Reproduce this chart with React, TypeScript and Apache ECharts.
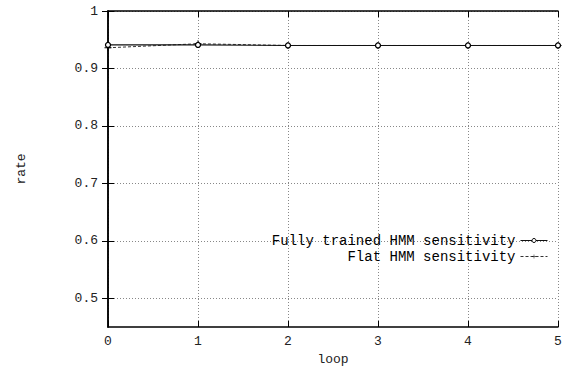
import React, { useEffect, useRef } from "react";
import * as echarts from "echarts";

const loops = [0, 1, 2, 3, 4, 5];
const fullyTrained = [0.941, 0.941, 0.94, 0.94, 0.94, 0.94];
const flat = [0.936, 0.943, 0.94, 0.94, 0.94, 0.94];
const yTicks = [0.5, 0.6, 0.7, 0.8, 0.9, 1];
const xTicks = [0, 1, 2, 3, 4, 5];
const seriesNames = ["Fully trained HMM sensitivity", "Flat HMM sensitivity"];

const PLUS = "path://M4.4,0h1.2v4.4h4.4v1.2h-4.4v4.4h-1.2v-4.4h-4.4v-1.2h4.4z";

export default function App() {
  const ref = useRef<HTMLDivElement>(null);
  useEffect(() => {
    if (!ref.current) return;
    const chart = echarts.init(ref.current, undefined, { renderer: "svg" });
    const mono = { fontFamily: "Liberation Mono", fontSize: 13, color: "#222" };
    const grid = { left: 108, right: 10, top: 11, bottom: 40, outerBoundsMode: "none", containLabel: false };
    const tick = { show: true, inside: true, length: 6, lineStyle: { color: "#000", width: 1 } };
    chart.setOption({
      animation: false,
      backgroundColor: "#fff",
      grid,
      legend: {
        orient: "vertical",
        right: 20,
        top: 233,
        align: "right",
        itemWidth: 27,
        itemHeight: 5,
        itemGap: 1,
        padding: 0,
        data: seriesNames,
        lineStyle: { width: 1 },
        itemStyle: { borderWidth: 1 },
        textStyle: { fontFamily: "Liberation Mono", fontSize: 14, lineHeight: 15, color: "#000" },
      },
      xAxis: [
        {
          type: "value",
          min: 0,
          max: 5,
          interval: 1,
          name: "loop",
          nameLocation: "middle",
          nameGap: 21,
          nameTextStyle: { ...mono, fontSize: 13, lineHeight: 14 },
          axisLine: { show: true, lineStyle: { color: "#000", width: 1.5 } },
          axisTick: tick,
          axisLabel: { ...mono, margin: 8, customValues: xTicks },
          splitLine: { show: true, lineStyle: { color: "#888", type: [1, 2], width: 1 } },
        },
        {
          type: "value",
          position: "top",
          min: 0,
          max: 5,
          interval: 1,
          axisLine: { show: true, lineStyle: { color: "#000", width: 1.5 } },
          axisTick: tick,
          axisLabel: { show: false },
          splitLine: { show: false },
        },
      ],
      yAxis: [
        {
          type: "value",
          min: 0.45,
          max: 1,
          name: "rate",
          nameLocation: "middle",
          nameGap: 80,
          nameRotate: 90,
          nameTextStyle: { ...mono, fontSize: 13 },
          axisLine: { show: true, lineStyle: { color: "#000", width: 1.5 } },
          axisTick: { ...tick, customValues: yTicks },
          axisLabel: { ...mono, margin: 10, customValues: yTicks, formatter: (v: number) => String(Math.round(v * 10) / 10) },
          splitLine: { show: true, lineStyle: { color: "#888", type: [1, 2], width: 1 } },
        },
        {
          type: "value",
          position: "right",
          min: 0.45,
          max: 1,
          axisLine: { show: true, lineStyle: { color: "#000", width: 1.5 } },
          axisTick: { ...tick, customValues: yTicks },
          axisLabel: { show: false, customValues: yTicks },
          splitLine: { show: false },
        },
      ],
      series: [
        {
          name: seriesNames[0],
          type: "line",
          data: loops.map((x, i) => [x, fullyTrained[i]]),
          symbol: "circle",
          symbolSize: 5,
          showSymbol: true,
          lineStyle: { color: "#111", width: 1.1 },
          itemStyle: { color: "#fff", borderColor: "#000", borderWidth: 1.3 },
          z: 3,
        },
        {
          name: seriesNames[1],
          type: "line",
          data: loops.map((x, i) => [x, flat[i]]),
          symbol: PLUS,
          symbolSize: 7,
          showSymbol: true,
          lineStyle: { color: "#333", width: 1, type: [3, 2] },
          itemStyle: { color: "#000" },
          z: 2,
        },
      ],
    });
    return () => chart.dispose();
  }, []);
  return <div ref={ref} style={{ width: 568, height: 367, position: "absolute", left: 0, top: 0 }} />;
}
